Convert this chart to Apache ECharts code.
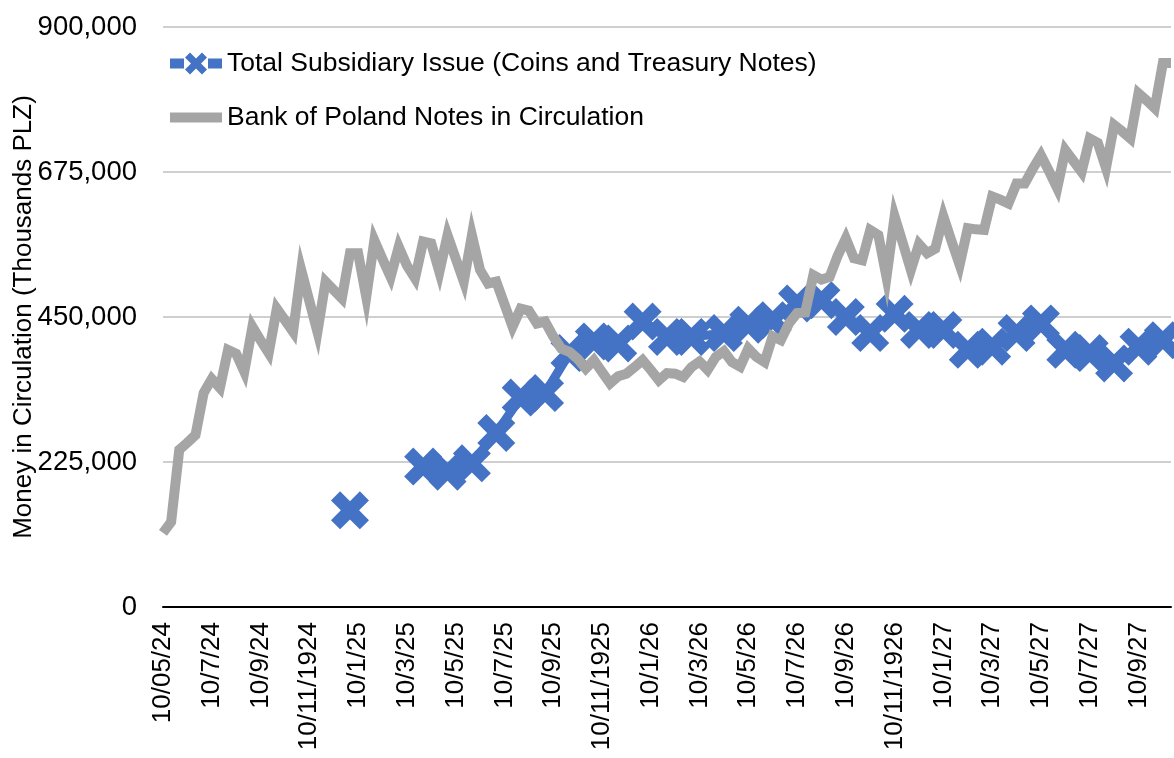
<!DOCTYPE html>
<html>
<head>
<meta charset="utf-8">
<script src="https://cdn.jsdelivr.net/npm/echarts@6/dist/echarts.min.js"></script>
<style>
  html, body { margin: 0; padding: 0; background: #ffffff; }
  #chart { width: 1174px; height: 758px; }
</style>
</head>
<body>
<div id="chart"></div>
<script>
// Category labels (reports roughly every 10 days)
const categories = [
  "10/05/24","20/5/24","31/5/24",
  "10/6/24","20/6/24","30/6/24",
  "10/7/24","20/7/24","31/7/24",
  "10/8/24","20/8/24","31/8/24",
  "10/9/24","20/9/24","30/9/24",
  "10/10/24","20/10/24","31/10/24",
  "10/11/1924","20/11/1924","30/11/1924",
  "10/12/24","20/12/24","31/12/24",
  "10/1/25","20/1/25","31/1/25",
  "10/2/25","20/2/25","28/2/25",
  "10/3/25","20/3/25","31/3/25",
  "10/4/25","20/4/25","30/4/25",
  "10/5/25","20/5/25","31/5/25",
  "10/6/25","20/6/25","30/6/25",
  "10/7/25","20/7/25","31/7/25",
  "10/8/25","20/8/25","31/8/25",
  "10/9/25","20/9/25","30/9/25",
  "10/10/25","20/10/25","31/10/25",
  "10/11/1925","20/11/1925","30/11/1925",
  "10/12/25","20/12/25","31/12/25",
  "10/1/26","20/1/26","31/1/26",
  "10/2/26","20/2/26","28/2/26",
  "10/3/26","20/3/26","31/3/26",
  "10/4/26","20/4/26","30/4/26",
  "10/5/26","20/5/26","31/5/26",
  "10/6/26","20/6/26","30/6/26",
  "10/7/26","20/7/26","31/7/26",
  "10/8/26","20/8/26","31/8/26",
  "10/9/26","20/9/26","30/9/26",
  "10/10/26","20/10/26","31/10/26",
  "10/11/1926","20/11/1926","30/11/1926",
  "10/12/26","20/12/26","31/12/26",
  "10/1/27","20/1/27","31/1/27",
  "10/2/27","20/2/27","28/2/27",
  "10/3/27","20/3/27","31/3/27",
  "10/4/27","20/4/27","30/4/27",
  "10/5/27","20/5/27","31/5/27",
  "10/6/27","20/6/27","30/6/27",
  "10/7/27","20/7/27","31/7/27",
  "10/8/27","20/8/27","31/8/27",
  "10/9/27","20/9/27","30/9/27",
  "10/10/27","20/10/27"
];

// Bank of Poland Notes in Circulation (thousands PLZ), one per category
const bankNotes = [
  115000, 132000, 244000, 255000, 267000, 332000, 354000, 340000, 399000, 393000,
  365000, 435000, 414000, 394000, 463000, 445000, 427000, 523000, 475000, 427000,
  505000, 492000, 479000, 549000, 549000, 481000, 569000, 540000, 512000, 559000,
  530000, 510000, 567000, 564000, 520000, 577000, 541000, 505000, 577000, 523000,
  502000, 505000, 470000, 435000, 463000, 460000, 440000, 443000, 420000, 401000,
  396000, 385000, 370000, 383000, 365000, 347000, 358000, 362000, 372000, 383000,
  368000, 352000, 363000, 362000, 357000, 372000, 381000, 368000, 388000, 397000,
  380000, 373000, 401000, 388000, 380000, 420000, 414000, 440000, 456000, 457000,
  515000, 508000, 512000, 545000, 572000, 541000, 538000, 585000, 577000, 512000,
  606000, 565000, 523000, 563000, 549000, 556000, 606000, 568000, 531000, 588000,
  586000, 585000, 637000, 632000, 626000, 657000, 657000, 680000, 701000, 676000,
  650000, 709000, 692000, 675000, 727000, 720000, 681000, 748000, 738000, 727000,
  797000, 786000, 774000, 844000, 844000
];

// Total Subsidiary Issue (Coins and Treasury Notes), monthly readings
const subsidiaryDates = [
  "31/12/24","31/1/25","28/2/25","31/3/25","30/4/25","31/5/25","30/6/25","31/7/25",
  "31/8/25","30/9/25","31/10/25","30/11/1925","31/12/25","31/1/26","28/2/26",
  "10/4/26","10/5/26","10/6/26","10/7/26","10/8/26","10/9/26","10/10/26","10/11/1926",
  "10/12/26","10/1/27","10/2/27","10/3/27","10/4/27","10/5/27","10/6/27","10/7/27",
  "10/8/27","10/9/27","10/10/27"
];
const subsidiaryValues = [
  150000, null, null, 218000, 210000, 223000, 270000, 325000,
  332000, 394000, 412000, 409000, 443000, 419000, 419000,
  425000, 438000, 445000, 471000, 476000, 450000, 425000, 455000,
  430000, 430000, 399000, 404000, 425000, 440000, 399000, 394000,
  378000, 404000, 414000
];

const yTicks = { min: 0, max: 900000, interval: 225000 };
const seriesNames = [
  "Total Subsidiary Issue (Coins and Treasury Notes)",
  "Bank of Poland Notes in Circulation"
];

const BLUE = "#4472C4";
const GRAY = "#A5A5A5";
const FONT = "Liberation Sans, Arial, Helvetica, sans-serif";
const xMark = "path://M24,0 L50,26 L76,0 L100,24 L74,50 L100,76 L76,100 L50,74 L24,100 L0,76 L26,50 L0,24 Z";
const blueLegendIcon = "path://M0,6 L14,6 L14,16 L0,16 Z M38,6 L52,6 L52,16 L38,16 Z " +
  "M20,0 L26,6 L32,0 L37,5 L31,11 L37,17 L32,22 L26,16 L20,22 L15,17 L21,11 L15,5 Z";
const grayLegendIcon = "path://M0,0 L52,0 L52,10 L0,10 Z";

const chart = echarts.init(document.getElementById("chart"), null, { renderer: "canvas" });
chart.setOption({
  backgroundColor: "#ffffff",
  animation: false,
  textStyle: { fontFamily: FONT, color: "#000" },
  grid: { left: 163, right: 3, top: 27, bottom: 151, containLabel: false, outerBoundsMode: "none" },
  legend: {
    data: [
      { name: seriesNames[0], icon: blueLegendIcon },
      { name: seriesNames[1], icon: grayLegendIcon }
    ],
    orient: "vertical",
    left: 165,
    top: 45,
    itemWidth: 52,
    itemHeight: 22,
    itemGap: 27,
    symbolKeepAspect: true,
    textStyle: { fontFamily: FONT, fontSize: 26.5, color: "#000" }
  },
  xAxis: {
    type: "category",
    data: categories,
    boundaryGap: false,
    axisLine: { lineStyle: { color: "#000", width: 2 } },
    axisTick: { show: false },
    splitLine: { show: false },
    axisLabel: {
      interval: 5,
      rotate: 90,
      fontFamily: FONT,
      fontSize: 26,
      color: "#000",
      margin: 15
    }
  },
  yAxis: {
    type: "value",
    min: yTicks.min,
    max: yTicks.max,
    interval: yTicks.interval,
    name: "Money in Circulation (Thousands PLZ)",
    nameLocation: "middle",
    nameGap: 126,
    nameMoveOverlap: false,
    nameTextStyle: { fontFamily: FONT, fontSize: 26, color: "#000" },
    axisLine: { show: false },
    axisTick: { show: false },
    splitLine: { lineStyle: { color: "#BFBFBF", width: 1.5 } },
    axisLabel: {
      fontFamily: FONT,
      fontSize: 27.5,
      color: "#000",
      margin: 26,
      formatter: v => v.toLocaleString("en-US")
    }
  },
  series: [
    {
      name: seriesNames[0],
      type: "line",
      z: 2,
      data: subsidiaryDates.map((d, i) => [d, subsidiaryValues[i]]),
      connectNulls: false,
      symbol: xMark,
      symbolSize: 38,
      showAllSymbol: true,
      itemStyle: { color: BLUE },
      lineStyle: { color: BLUE, width: 9 }
    },
    {
      name: seriesNames[1],
      type: "line",
      z: 3,
      data: bankNotes,
      symbol: "none",
      itemStyle: { color: GRAY },
      lineStyle: { color: GRAY, width: 10, join: "miter" }
    }
  ]
});
</script>
</body>
</html>
